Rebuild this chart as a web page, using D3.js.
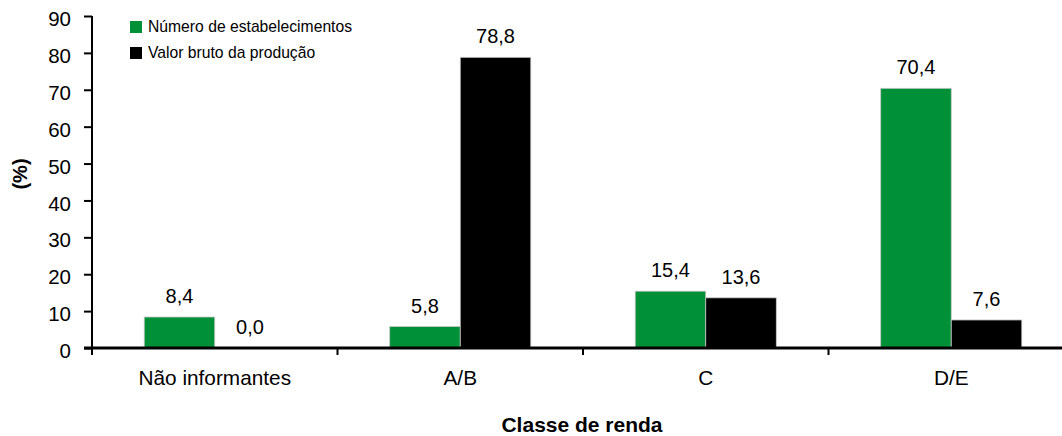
<!DOCTYPE html>
<html>
<head>
<meta charset="utf-8">
<script src="https://cdn.jsdelivr.net/npm/d3@7"></script>
<style>
  html, body { margin: 0; padding: 0; background: #fff; }
  svg { display: block; font-family: Arial, "Liberation Sans", sans-serif; }
</style>
</head>
<body>
<svg id="chart" width="1062" height="436"></svg>
<script>
(function () {
  'use strict';

  // Data
  var categories = ['Não informantes', 'A/B', 'C', 'D/E'];
  var seriesNames = ['Número de estabelecimentos', 'Valor bruto da produção'];
  var estabelecimentos = [8.4, 5.8, 15.4, 70.4];
  var valorBruto = [0.0, 78.8, 13.6, 7.6];
  var yTicks = [0, 10, 20, 30, 40, 50, 60, 70, 80, 90];
  var colors = ['#009038', '#000000'];

  var seriesValues = [estabelecimentos, valorBruto];
  var rows = categories.map(function (c, i) {
    return { cat: c, vals: seriesValues.map(function (s, j) { return { key: seriesNames[j], idx: j, v: s[i] }; }) };
  });

  var svg = d3.select('#chart');
  var left = 92, right = 1074, bottom = 348, top = 16;

  var x0 = d3.scaleBand().domain(categories).range([left, right]).padding(0);
  var x1 = d3.scaleBand().domain(seriesNames).range([0, x0.bandwidth()])
    .paddingInner(0).paddingOuter(0.74);
  var y = d3.scaleLinear().domain([0, 90]).range([bottom, top]);

  function fmt(v) { return v.toFixed(1).replace('.', ','); }

  // Bars
  var groups = svg.append('g').selectAll('g')
    .data(rows)
    .join('g')
    .attr('transform', function (d) { return 'translate(' + x0(d.cat) + ',0)'; });

  groups.selectAll('rect')
    .data(function (d) { return d.vals; })
    .join('rect')
    .attr('x', function (d) { return x1(d.key); })
    .attr('y', function (d) { return y(d.v); })
    .attr('width', x1.bandwidth())
    .attr('height', function (d) { return y(0) - y(d.v); })
    .attr('fill', function (d) { return colors[d.idx]; })
    .attr('stroke', '#c8c8c8')
    .attr('stroke-width', 0.8);

  groups.selectAll('text')
    .data(function (d) { return d.vals; })
    .join('text')
    .attr('x', function (d) { return x1(d.key) + x1.bandwidth() / 2; })
    .attr('y', function (d) { return y(d.v) - 14; })
    .attr('text-anchor', 'middle')
    .attr('font-size', '20px')
    .attr('fill', '#000')
    .text(function (d) { return fmt(d.v); });

  // Y axis
  var yAxis = svg.append('g')
    .attr('transform', 'translate(' + left + ',0)')
    .call(d3.axisLeft(y).tickValues(yTicks).tickSize(8).tickPadding(13).tickFormat(d3.format('d')));
  yAxis.select('.domain').attr('stroke', '#000').attr('stroke-width', 2)
    .attr('d', 'M0,' + (top) + 'V' + (bottom + 1));
  yAxis.selectAll('.tick line').attr('stroke', '#000').attr('stroke-width', 2);
  yAxis.selectAll('.tick text').attr('font-size', '20.5px').attr('fill', '#000')
    .attr('dy', '0.47em')
    .attr('font-family', 'Arial, "Liberation Sans", sans-serif');

  // X axis
  var xAxis = svg.append('g')
    .attr('transform', 'translate(0,' + bottom + ')');
  xAxis.append('line')
    .attr('x1', left - 8).attr('x2', right)
    .attr('y1', 0).attr('y2', 0)
    .attr('stroke', '#000').attr('stroke-width', 3);
  xAxis.selectAll('line.tk')
    .data(categories)
    .join('line')
    .attr('class', 'tk')
    .attr('x1', function (d) { return x0(d); })
    .attr('x2', function (d) { return x0(d); })
    .attr('y1', 0).attr('y2', 7)
    .attr('stroke', '#000').attr('stroke-width', 2);
  xAxis.selectAll('text')
    .data(categories)
    .join('text')
    .attr('x', function (d) { return x0(d) + x0.bandwidth() / 2; })
    .attr('y', 37)
    .attr('text-anchor', 'middle')
    .attr('font-size', '20.8px')
    .text(function (d) { return d; });

  // Axis titles
  svg.append('text')
    .attr('x', 582).attr('y', 432)
    .attr('text-anchor', 'middle')
    .attr('font-size', '21px').attr('font-weight', 'bold')
    .text('Classe de renda');

  svg.append('text')
    .attr('transform', 'translate(27,174) rotate(-90)')
    .attr('text-anchor', 'middle')
    .attr('font-size', '20px').attr('font-weight', 'bold')
    .text('(%)');

  // Legend
  var legend = svg.append('g').attr('transform', 'translate(130,21)');
  var li = legend.selectAll('g')
    .data(seriesNames)
    .join('g')
    .attr('transform', function (d, i) { return 'translate(0,' + (i * 26) + ')'; });
  li.append('rect')
    .attr('width', 12).attr('height', 12)
    .attr('fill', function (d, i) { return colors[i]; });
  li.append('text')
    .attr('x', 18).attr('y', 11)
    .attr('font-size', '15.7px')
    .text(function (d) { return d; });
})();
</script>
</body>
</html>
